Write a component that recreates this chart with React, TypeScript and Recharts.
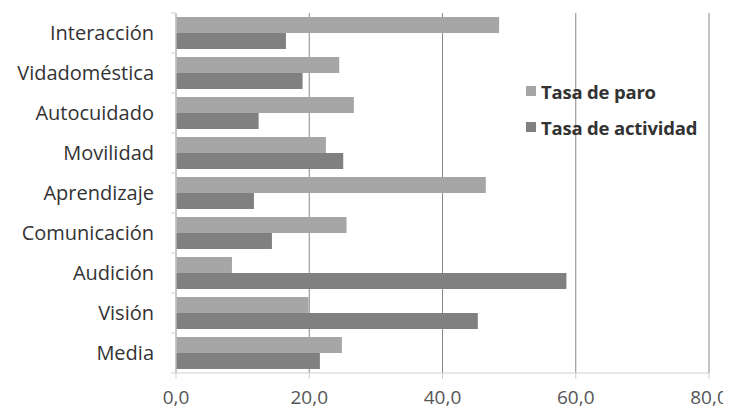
import React from 'react';
import { BarChart, Bar, XAxis, YAxis, CartesianGrid } from 'recharts';

const categories = ['Interacción', 'Vidadoméstica', 'Autocuidado', 'Movilidad', 'Aprendizaje', 'Comunicación', 'Audición', 'Visión', 'Media'];
const tasaParo = [48.5, 24.5, 26.7, 22.5, 46.5, 25.6, 8.4, 19.9, 24.9];
const tasaActividad = [16.5, 19.0, 12.4, 25.1, 11.7, 14.4, 58.6, 45.3, 21.6];
const xTicks = [0, 20, 40, 60, 80];
const seriesNames = ['Tasa de paro', 'Tasa de actividad'];
const seriesColors = ['#a6a6a6', '#808080'];

const data = categories.map((name, i) => ({ name, paro: tasaParo[i], actividad: tasaActividad[i] }));

const FONT = '"Open Sans", sans-serif';
const BAND = 40;

const CategoryTick = (props: any) => {
  const { x, y, payload, index } = props;
  const last = index === categories.length - 1;
  return (
    <g>
      <line x1={x + 3} x2={x + 8} y1={y - BAND / 2} y2={y - BAND / 2} stroke="#cfcfcf" />
      {last && <line x1={x + 3} x2={x + 8} y1={y + BAND / 2} y2={y + BAND / 2} stroke="#cfcfcf" />}
      <text x={x - 14} y={y} dy={7} textAnchor="end" fontSize={20} fill="#333" fontFamily={FONT}>
        {payload.value}
      </text>
    </g>
  );
};

const App = () => (
  <div style={{ position: 'relative', width: 723, height: 409 }}>
    <BarChart
      width={723}
      height={409}
      data={data}
      layout="vertical"
      margin={{ top: 5, right: 22, bottom: 0, left: 0 }}
      barCategoryGap={4}
      barGap={0}
    >
      <CartesianGrid horizontal={false} stroke="#888" />
      <XAxis
        type="number"
        domain={[0, 80]}
        ticks={xTicks}
        tickFormatter={(v: number) => v.toFixed(1).replace('.', ',')}
        axisLine={{ stroke: '#d0d0d0' }}
        tickLine={{ stroke: '#cfcfcf' }}
        tickSize={6}
        tickMargin={12}
        height={44}
        tick={{ fontSize: 19, fill: '#555', fontFamily: FONT }}
      />
      <YAxis
        type="category"
        dataKey="name"
        width={168}
        axisLine={{ stroke: '#d0d0d0' }}
        tickLine={false}
        tick={<CategoryTick />}
      />
      <Bar dataKey="paro" name={seriesNames[0]} fill={seriesColors[0]} isAnimationActive={false} />
      <Bar dataKey="actividad" name={seriesNames[1]} fill={seriesColors[1]} isAnimationActive={false} />
    </BarChart>
    <div
      style={{
        position: 'absolute',
        left: 518,
        top: 65,
        fontFamily: FONT,
        fontWeight: 'bold',
        fontSize: 18.5,
        letterSpacing: -0.2,
        color: '#333',
        whiteSpace: 'nowrap',
      }}
    >
      {seriesNames.map((label, i) => (
        <div key={label} style={{ display: 'flex', alignItems: 'center', height: 36 }}>
          <span style={{ width: 10, height: 10, background: seriesColors[i], marginRight: 5, display: 'inline-block' }} />
          {label}
        </div>
      ))}
    </div>
  </div>
);

export default App;
